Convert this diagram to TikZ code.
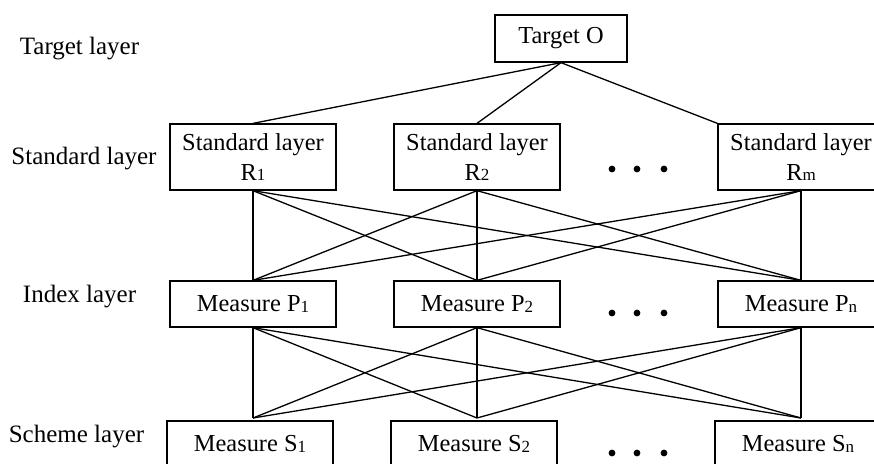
\documentclass[tikz,border=0pt]{standalone}
\usepackage{fontspec}
\setmainfont{Liberation Serif}
\usepackage{tikz}
\usetikzlibrary{positioning}

\newcommand{\idx}[1]{\raisebox{-0.4pt}{\fontsize{8.5}{8.5}\selectfont #1}}

\begin{document}
\begin{tikzpicture}[x=0.5pt,y=-0.5pt,
  lay/.style={font=\fontsize{12.5}{15}\selectfont},
  box/.style={draw,line width=0.65pt,inner sep=0pt,minimum width=83pt,
    minimum height=23pt,align=center,font=\fontsize{12.2}{15}\selectfont},
  tallbox/.style={box,minimum height=33pt},
  link/.style={line width=0.65pt}]
 \useasboundingbox (0,0) rectangle (874,463);
 % layer names
 \node[lay] (tl) at (79.5,49) {Target layer};
 \node[lay] (sl) at (84,159) {Standard layer};
 \node[lay] (il) at (79.5,297) {Index layer};
 \node[lay] (hl) at (76.5,437) {Scheme layer};
 % boxes
 \node[box,minimum width=66pt,minimum height=23.5pt] (O) at (561,38.5) {Target O};
 \node[tallbox] (R1) at (253,157) {Standard layer\\R\idx{1}};
 \node[tallbox] (R2) at (477,157) {Standard layer\\R\idx{2}};
 \node[tallbox] (R3) at (801,157) {Standard layer\\R\idx{m}};
 \node[box] (P1) at (253,304) {Measure P\idx{1}};
 \node[box] (P2) at (477,304) {Measure P\idx{2}};
 \node[box] (P3) at (801,304) {Measure P\idx{n}};
 \node[box] (S1) at (250,444) {Measure S\idx{1}};
 \node[box] (S2) at (474,444) {Measure S\idx{2}};
 \node[box] (S3) at (798,444) {Measure S\idx{n}};
 \coordinate (s1) at (253,418);
 \coordinate (s2) at (477,418);
 \coordinate (s3) at (801,418);
 % links
 \draw[link] (O.south) -- (R1.north);
 \draw[link] (O.south) -- (R2.north);
 \draw[link] (O.south) -- (R3.north west);
 \foreach \i in {1,2,3}
  \foreach \j in {1,2,3} {
   \draw[link] (R\i.south) -- (P\j.north);
   \draw[link] (P\i.south) -- (s\j);
  }
 % dots
 \foreach \y in {169,313,453}
  \foreach \x in {612,637,664}
   \fill (\x,\y) circle (3.4);
\end{tikzpicture}
\end{document}
